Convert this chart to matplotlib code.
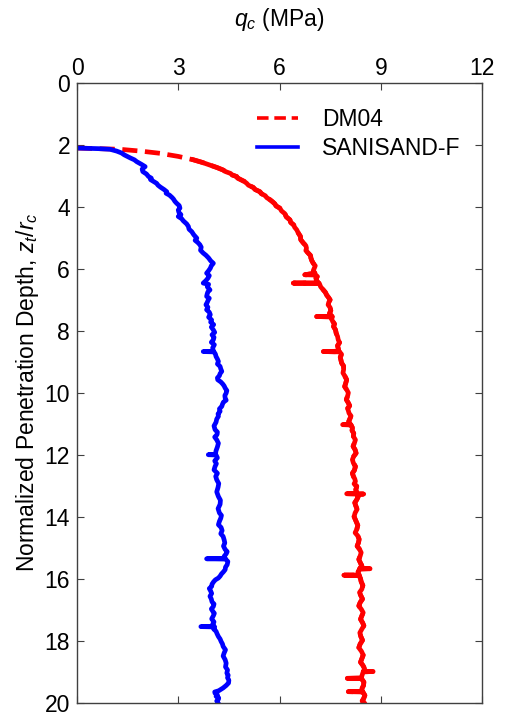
"""Cone penetration profile: DM04 vs SANISAND-F."""

import matplotlib
matplotlib.use("Agg")
import matplotlib.pyplot as plt

plt.rcParams["font.family"] = ["Liberation Sans", "DejaVu Sans"]
plt.rcParams["mathtext.fontset"] = "custom"
plt.rcParams["mathtext.rm"] = "Liberation Sans"
plt.rcParams["mathtext.it"] = "Liberation Sans:italic"

FS = 16.5

# SANISAND-F (blue): normalized depth z_t/r_c and tip resistance q_c [MPa]
sanisand_depth = [
    2.10, 2.11, 2.12, 2.14, 2.20, 2.26, 2.32, 2.42, 2.48, 2.54, 2.62, 2.70,
    2.78, 2.86, 2.94, 3.02, 3.07, 3.12, 3.24, 3.30, 3.36, 3.44, 3.51, 3.56,
    3.62, 3.70, 3.75, 3.82, 3.88, 3.96, 4.04, 4.10, 4.18, 4.25, 4.31, 4.38,
    4.45, 4.55, 4.63, 4.72, 4.80, 4.90, 5.01, 5.08, 5.15, 5.22, 5.30, 5.40,
    5.49, 5.56, 5.65, 5.74, 5.82, 5.90, 5.98, 6.06, 6.14, 6.22, 6.30, 6.38,
    6.46, 6.50, 6.58, 6.68, 6.74, 6.80, 6.89, 6.95, 7.00, 7.08, 7.16, 7.24,
    7.32, 7.40, 7.48, 7.56, 7.65, 7.72, 7.80, 7.88, 7.97, 8.05, 8.13, 8.21,
    8.29, 8.37, 8.45, 8.55, 8.66, 8.67, 8.68, 8.75, 8.83, 8.91, 8.99, 9.07,
    9.15, 9.23, 9.31, 9.38, 9.45, 9.52, 9.58, 9.65, 9.72, 9.78, 9.85, 9.93,
    10.01, 10.09, 10.17, 10.24, 10.30, 10.37, 10.44, 10.52, 10.60, 10.68,
    10.76, 10.85, 10.95, 11.07, 11.19, 11.27, 11.35, 11.43, 11.52, 11.63,
    11.75, 11.87, 11.99, 12.00, 12.01, 12.10, 12.20, 12.29, 12.38, 12.49,
    12.60, 12.70, 12.81, 12.93, 13.05, 13.20, 13.35, 13.47, 13.60, 13.74,
    13.88, 13.96, 14.05, 14.15, 14.26, 14.35, 14.45, 14.55, 14.64, 14.75,
    14.85, 14.95, 15.06, 15.13, 15.20, 15.28, 15.35, 15.36, 15.37, 15.45,
    15.55, 15.63, 15.71, 15.78, 15.85, 15.92, 15.98, 16.04, 16.10, 16.18,
    16.25, 16.32, 16.40, 16.48, 16.57, 16.66, 16.75, 16.82, 16.90, 16.98,
    17.05, 17.12, 17.20, 17.30, 17.40, 17.47, 17.54, 17.55, 17.56, 17.63,
    17.70, 17.78, 17.87, 17.95, 18.03, 18.11, 18.19, 18.30, 18.40, 18.50,
    18.62, 18.73, 18.85, 18.95, 19.05, 19.12, 19.20, 19.28, 19.37, 19.45,
    19.53, 19.58, 19.62, 19.66, 19.70, 19.75, 19.80, 19.85, 19.90, 19.95,
    20.00,
]
sanisand_qc = [
    0.00, 0.30, 0.65, 0.98, 1.18, 1.32, 1.40, 1.58, 1.70, 1.77, 1.90, 2.02,
    1.93, 1.95, 2.06, 2.12, 2.20, 2.18, 2.36, 2.40, 2.47, 2.58, 2.66, 2.64,
    2.74, 2.82, 2.86, 2.90, 2.95, 3.03, 3.05, 3.00, 3.02, 3.08, 3.00, 3.10,
    3.15, 3.25, 3.30, 3.32, 3.40, 3.46, 3.55, 3.50, 3.58, 3.64, 3.68, 3.66,
    3.74, 3.82, 3.90, 3.96, 4.04, 3.98, 3.95, 3.90, 3.84, 3.92, 3.88, 3.82,
    3.74, 3.90, 3.86, 3.94, 3.88, 3.86, 3.84, 3.92, 3.89, 3.86, 3.82, 3.88,
    3.84, 3.92, 3.95, 3.90, 3.99, 3.96, 4.05, 3.98, 4.04, 4.08, 4.00, 4.06,
    4.04, 3.98, 4.07, 4.02, 4.04, 3.74, 4.06, 4.10, 4.12, 4.16, 4.19, 4.16,
    4.24, 4.26, 4.29, 4.24, 4.22, 4.16, 4.17, 4.26, 4.32, 4.36, 4.39, 4.44,
    4.42, 4.38, 4.39, 4.42, 4.34, 4.31, 4.29, 4.22, 4.24, 4.18,
    4.19, 4.14, 4.12, 4.06, 4.09, 4.16, 4.15, 4.08, 4.14, 4.19,
    4.16, 4.12, 4.10, 3.89, 4.12, 4.16, 4.08, 4.13, 4.09, 4.06,
    4.16, 4.11, 4.14, 4.20, 4.18, 4.14, 4.19, 4.25, 4.24, 4.18,
    4.22, 4.28, 4.26, 4.22, 4.19, 4.27, 4.30, 4.26, 4.33, 4.36,
    4.38, 4.34, 4.39, 4.45, 4.42, 4.36, 4.39, 3.84, 4.40, 4.47,
    4.45, 4.40, 4.39, 4.34, 4.28, 4.24, 4.19, 4.10, 4.05, 4.00,
    3.99, 3.92, 3.96, 3.99, 3.94, 3.98, 4.00, 4.06, 4.04, 3.98,
    4.02, 4.07, 4.04, 3.99, 4.06, 4.02, 4.05, 3.67, 4.08, 4.05,
    4.12, 4.15, 4.19, 4.24, 4.27, 4.31, 4.33, 4.40, 4.36, 4.33,
    4.39, 4.42, 4.40, 4.46, 4.44, 4.48, 4.46, 4.50, 4.49, 4.42,
    4.33, 4.26, 4.20, 4.08, 4.09, 4.16, 4.12, 4.20, 4.19, 4.14,
    4.17,
]

# DM04 (red)
dm04_depth = [
    2.10, 2.12, 2.14, 2.20, 2.27, 2.37, 2.48, 2.56, 2.65, 2.73, 2.81, 2.86,
    2.92, 2.97, 3.02, 3.07, 3.12, 3.18, 3.24, 3.30, 3.37, 3.44, 3.51, 3.57,
    3.64, 3.70, 3.77, 3.84, 3.90, 3.97, 4.04, 4.13, 4.22, 4.32, 4.42, 4.50,
    4.58, 4.66, 4.74, 4.85, 4.95, 5.06, 5.17, 5.25, 5.33, 5.41, 5.49, 5.57,
    5.65, 5.74, 5.82, 5.90, 5.98, 6.06, 6.14, 6.19, 6.20, 6.25, 6.30, 6.38,
    6.45, 6.46, 6.47, 6.58, 6.68, 6.76, 6.85, 6.92, 7.00, 7.08, 7.16, 7.25,
    7.35, 7.44, 7.53, 7.54, 7.55, 7.62, 7.70, 7.78, 7.86, 7.97, 8.08, 8.18,
    8.29, 8.38, 8.48, 8.57, 8.66, 8.67, 8.68, 8.76, 8.85, 8.95, 9.04, 9.14,
    9.25, 9.36, 9.47, 9.58, 9.70, 9.80, 9.90, 10.00, 10.10, 10.22, 10.33,
    10.42, 10.50, 10.58, 10.66, 10.75, 10.85, 10.93, 11.02, 11.03, 11.04,
    11.13, 11.22, 11.31, 11.41, 11.52, 11.62, 11.73, 11.84, 11.95, 12.05,
    12.16, 12.27, 12.38, 12.50, 12.60, 12.70, 12.78, 12.86, 12.94, 13.02,
    13.13, 13.25, 13.26, 13.27, 13.28, 13.36, 13.45, 13.55, 13.65, 13.76,
    13.88, 14.00, 14.15, 14.28, 14.41, 14.52, 14.62, 14.73, 14.84, 14.95,
    15.05, 15.16, 15.27, 15.38, 15.50, 15.58, 15.67, 15.68, 15.69, 15.78,
    15.88, 15.89, 15.90, 16.00, 16.10, 16.22, 16.34, 16.45, 16.55, 16.66,
    16.77, 16.88, 17.00, 17.10, 17.20, 17.31, 17.42, 17.52, 17.63, 17.75,
    17.87, 17.99, 18.11, 18.23, 18.35, 18.47, 18.59, 18.70, 18.80, 18.90,
    18.99, 19.00, 19.01, 19.11, 19.21, 19.22, 19.23, 19.34, 19.45, 19.55,
    19.64, 19.65, 19.66, 19.77, 19.88, 19.95, 20.00,
]
dm04_qc = [
    0.00, 0.60, 1.27, 1.90, 2.46, 3.00, 3.45, 3.70, 3.94, 4.15, 4.33, 4.40,
    4.55, 4.60, 4.73, 4.76, 4.85, 4.96, 5.03, 5.08, 5.22, 5.28, 5.42, 5.46,
    5.58, 5.62, 5.72, 5.80, 5.86, 5.90, 6.01, 6.06, 6.16, 6.20, 6.31, 6.33,
    6.42, 6.45, 6.51, 6.56, 6.62, 6.63, 6.71, 6.78, 6.80, 6.78, 6.85, 6.92,
    6.93, 6.96, 7.00, 7.06, 7.03, 7.00, 7.05, 6.75, 7.06, 7.12, 7.08, 7.10,
    7.15, 6.41, 7.18, 7.22, 7.30, 7.36, 7.40, 7.45, 7.50, 7.46, 7.44, 7.50,
    7.52, 7.48, 7.55, 7.10, 7.57, 7.54, 7.58, 7.63, 7.60, 7.66, 7.68, 7.72,
    7.74, 7.78, 7.72, 7.74, 7.76, 7.30, 7.78, 7.84, 7.80, 7.82, 7.84, 7.90,
    7.90, 7.88, 7.94, 7.99, 7.96, 7.93, 7.99, 8.04, 8.02, 7.98, 8.04,
    8.08, 8.02, 8.04, 8.06, 8.12, 8.08, 8.05, 8.10, 7.87, 8.12,
    8.16, 8.15, 8.20, 8.19, 8.25, 8.22, 8.18, 8.24, 8.27, 8.20,
    8.16, 8.19, 8.25, 8.22, 8.16, 8.19, 8.23, 8.25, 8.21, 8.29,
    8.26, 8.30, 7.99, 8.49, 8.29, 8.33, 8.29, 8.23, 8.26, 8.30,
    8.24, 8.21, 8.27, 8.32, 8.29, 8.24, 8.32, 8.36, 8.34, 8.30,
    8.37, 8.42, 8.39, 8.35, 8.40, 8.44, 8.38, 8.68, 8.38, 8.33,
    8.36, 7.91, 8.36, 8.40, 8.42, 8.47, 8.44, 8.37, 8.41, 8.46,
    8.39, 8.35, 8.43, 8.48, 8.44, 8.40, 8.46, 8.50, 8.44, 8.38,
    8.41, 8.46, 8.39, 8.35, 8.43, 8.48, 8.44, 8.40, 8.47, 8.52,
    8.49, 8.77, 8.48, 8.45, 8.42, 8.01, 8.43, 8.50, 8.49, 8.44,
    8.46, 8.04, 8.47, 8.53, 8.49, 8.45, 8.50,
]

x_ticks = [0, 3, 6, 9, 12]
y_ticks = [0, 2, 4, 6, 8, 10, 12, 14, 16, 18, 20]

fig = plt.figure(figsize=(5.11, 7.13), dpi=100)
ax = fig.add_axes([77 / 511, 10.5 / 713, 405 / 511, 619.5 / 713])

# red: dashed where the curve is sparse, dense part reads as solid
ax.plot(dm04_qc, dm04_depth, color="#ff0000", lw=3.4, ls=(0, (3.2, 1.6)),
        label="DM04")
ax.plot(dm04_qc[6:], dm04_depth[6:], color="#ff0000", lw=3.4, ls="-")
ax.plot(sanisand_qc, sanisand_depth, color="#0000ff", lw=3.4, ls="-",
        label="SANISAND-F")

ax.set_xlim(0, 12)
ax.set_ylim(20, 0)
ax.set_xticks(x_ticks)
ax.set_yticks(y_ticks)
ax.xaxis.set_ticks_position("both")
ax.yaxis.set_ticks_position("both")
ax.xaxis.set_label_position("top")
ax.tick_params(axis="x", labeltop=True, labelbottom=False)
ax.tick_params(direction="in", length=5, width=0.8, color="#404040",
               labelsize=FS)
ax.tick_params(axis="x", pad=2.5)
ax.tick_params(axis="y", pad=5)
for sp in ax.spines.values():
    sp.set_color("#404040")
    sp.set_linewidth(1.0)

ax.set_xlabel("$q_c$ (MPa)", fontsize=FS, labelpad=22)
ax.set_ylabel("Normalized Penetration Depth, $z_t/r_c$", fontsize=FS,
              labelpad=2.5)

leg = ax.legend(loc="upper left", bbox_to_anchor=(0.444, 0.959),
                frameon=False, fontsize=FS, borderpad=0, borderaxespad=0,
                handlelength=1.8, handletextpad=1.05, labelspacing=0.23)
for h in leg.get_lines():
    h.set_linewidth(2.6)

fig.savefig("out.png", dpi=100)
